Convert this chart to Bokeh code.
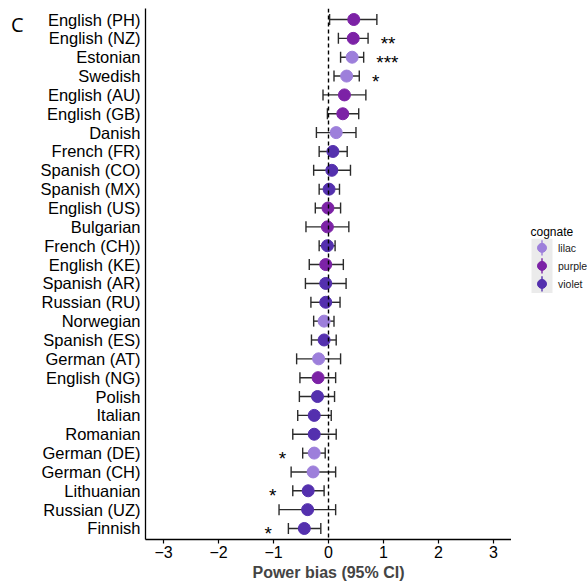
from bokeh.plotting import figure
from bokeh.layouts import row
from bokeh.models import (FactorRange, Range1d, ColumnDataSource, Whisker, Span,
                          Div, FixedTicker, TeeHead)
from bokeh.core.properties import value
from bokeh.embed import file_html
from bokeh.resources import INLINE

# ---------------- data (top to bottom) ----------------
languages = ["English (PH)", "English (NZ)", "Estonian", "Swedish", "English (AU)",
             "English (GB)", "Danish", "French (FR)", "Spanish (CO)", "Spanish (MX)",
             "English (US)", "Bulgarian", "French (CH))", "English (KE)", "Spanish (AR)",
             "Russian (RU)", "Norwegian", "Spanish (ES)", "German (AT)", "English (NG)",
             "Polish", "Italian", "Romanian", "German (DE)", "German (CH)",
             "Lithuanian", "Russian (UZ)", "Finnish"]
estimate = [0.46, 0.45, 0.43, 0.33, 0.29, 0.26, 0.14, 0.08, 0.06, 0.01,
            -0.01, -0.02, -0.02, -0.05, -0.05, -0.05, -0.08, -0.08, -0.18, -0.19,
            -0.20, -0.26, -0.26, -0.26, -0.28, -0.37, -0.38, -0.44]
ci_lower = [0.02, 0.18, 0.22, 0.10, -0.10, -0.02, -0.22, -0.17, -0.27, -0.17,
            -0.24, -0.41, -0.17, -0.35, -0.42, -0.32, -0.27, -0.31, -0.58, -0.52,
            -0.53, -0.56, -0.65, -0.47, -0.68, -0.65, -0.90, -0.73]
ci_upper = [0.88, 0.72, 0.64, 0.56, 0.68, 0.55, 0.50, 0.34, 0.40, 0.20,
            0.22, 0.37, 0.12, 0.27, 0.32, 0.21, 0.10, 0.14, 0.22, 0.13,
            0.11, 0.05, 0.14, -0.06, 0.13, -0.08, 0.13, -0.14]
cognate = ["purple", "purple", "lilac", "lilac", "purple", "purple", "lilac", "violet",
           "violet", "violet", "purple", "purple", "violet", "purple", "violet", "violet",
           "lilac", "violet", "lilac", "purple", "violet", "violet", "violet", "lilac",
           "lilac", "violet", "violet", "violet"]
signif = ["", "**", "***", "*", "", "", "", "", "", "", "", "", "", "", "", "", "", "",
          "", "", "", "", "", "*", "", "*", "", "*"]
cognate_levels = ["lilac", "purple", "violet"]
x_ticks = [-3, -2, -1, 0, 1, 2, 3]
x_tick_labels = ["\u22123", "\u22122", "\u22121", "0", "1", "2", "3"]
x_title = "Power bias (95% CI)"
panel_tag = "C"
legend_title = "cognate"

# ---------------- styles ----------------
palette = {"lilac": "#9D7FDB", "purple": "#7C22A6", "violet": "#5430AE"}
FONT = "Liberation Sans"
STAR_GAP_RIGHT = 0.23
STAR_GAP_LEFT = 0.30
H = 581

src = ColumnDataSource(dict(lang=languages, est=estimate, lo=ci_lower, hi=ci_upper))

fig = figure(width=481, height=H, output_backend="svg", toolbar_location=None,
             y_range=FactorRange(factors=list(reversed(languages)), range_padding=0.006),
             x_range=Range1d(-3.33, 3.33),
             min_border_left=115, min_border_right=0, min_border_top=8,
             min_border_bottom=42)
fig.frame_width = 366
fig.frame_height = 531

fig.xgrid.visible = False
fig.ygrid.visible = False
fig.outline_line_color = None
fig.background_fill_color = "white"
fig.border_fill_color = "white"

# zero line
fig.add_layout(Span(location=0, dimension="height", line_color="black",
                    line_width=1.4, line_dash="4 3"))

# error bars
whisk = Whisker(source=src, base="lang", lower="lo", upper="hi", dimension="width",
                line_color="#2b2b2b", line_width=1.4,
                lower_head=TeeHead(size=11, line_color="#2b2b2b", line_width=1.4),
                upper_head=TeeHead(size=11, line_color="#2b2b2b", line_width=1.4))
fig.add_layout(whisk)

# points per cognate level
for lev in cognate_levels:
    idx = [i for i, c in enumerate(cognate) if c == lev]
    s = ColumnDataSource(dict(lang=[languages[i] for i in idx],
                              est=[estimate[i] for i in idx]))
    fig.scatter(x="est", y="lang", source=s, size=12, marker="circle",
                fill_color=palette[lev], line_color=palette[lev])

# significance stars
pos_i = [i for i, s in enumerate(signif) if s and estimate[i] > 0]
neg_i = [i for i, s in enumerate(signif) if s and estimate[i] <= 0]
fig.text(x=[ci_upper[i] + STAR_GAP_RIGHT for i in pos_i], y=[languages[i] for i in pos_i],
         text=[signif[i] for i in pos_i], text_align="left", text_baseline="middle",
         y_offset=5, text_font=value(FONT), text_font_size="19px", text_color="black")
fig.text(x=[ci_lower[i] - STAR_GAP_LEFT for i in neg_i], y=[languages[i] for i in neg_i],
         text=[signif[i] for i in neg_i], text_align="right", text_baseline="middle",
         y_offset=5, text_font=value(FONT), text_font_size="19px", text_color="black")

# axes
fig.xaxis.ticker = FixedTicker(ticks=x_ticks)
fig.xaxis.major_label_overrides = {t: l for t, l in zip(x_ticks, x_tick_labels)}
fig.xaxis.minor_tick_line_color = None
fig.xaxis.major_tick_out = 4
fig.xaxis.major_tick_in = 0
fig.xaxis.major_tick_line_width = 1.2
fig.xaxis.axis_line_width = 1.3
fig.xaxis.major_label_text_font = FONT
fig.xaxis.major_label_text_font_size = "16px"
fig.xaxis.major_label_text_color = "black"
fig.xaxis.major_label_standoff = 2
fig.xaxis.axis_label = x_title
fig.xaxis.axis_label_text_font = FONT
fig.xaxis.axis_label_text_font_style = "bold"
fig.xaxis.axis_label_text_font_size = "16px"
fig.xaxis.axis_label_standoff = 3

fig.yaxis.major_tick_out = 0
fig.yaxis.major_tick_in = 0
fig.yaxis.minor_tick_line_color = None
fig.yaxis.axis_line_width = 1.3
fig.yaxis.major_label_text_font = FONT
fig.yaxis.major_label_text_font_size = "16.5px"
fig.yaxis.major_label_text_color = "black"
fig.yaxis.major_label_standoff = 5

# ---------------- legend panel (ggplot-style keys) ----------------
LW = 76
KEY_L, KEY_W, KEY_TOP, KEY_STEP = 20, 21, 253, 19.8
n = len(cognate_levels)
k_top = [KEY_TOP + KEY_STEP * i for i in range(n)]
k_bot = [t + KEY_STEP for t in k_top]
k_mid = [t + KEY_STEP / 2 for t in k_top]
k_col = [palette[c] for c in cognate_levels]

lfig = figure(width=LW, height=H, output_backend="svg", toolbar_location=None,
              x_range=Range1d(0, LW), y_range=Range1d(H, 0),
              x_axis_type=None, y_axis_type=None,
              min_border_left=0, min_border_right=0, min_border_top=0, min_border_bottom=0)
lfig.grid.visible = False
lfig.outline_line_color = None
lfig.background_fill_color = "white"
lfig.border_fill_color = "white"

lfig.quad(left=KEY_L, right=KEY_L + KEY_W, top=KEY_TOP, bottom=KEY_TOP + KEY_STEP * n,
          fill_color="#EBEBEB", line_color=None)
lfig.segment(x0=[KEY_L + KEY_W / 2] * n, x1=[KEY_L + KEY_W / 2] * n,
             y0=[t + 1.5 for t in k_top], y1=[b - 1.5 for b in k_bot],
             line_color=k_col, line_width=2, line_alpha=0.7)
lfig.scatter(x=[KEY_L + KEY_W / 2] * n, y=k_mid, size=9, marker="circle",
             fill_color=k_col, line_color=k_col)
lfig.text(x=[KEY_L + KEY_W + 5.5] * n, y=k_mid, text=cognate_levels,
          text_align="left", text_baseline="middle", text_font=value(FONT),
          text_font_size="10.5px", text_color="#1a1a1a")
lfig.text(x=[KEY_L - 1], y=[KEY_TOP - 7], text=[legend_title], text_align="left",
          text_baseline="alphabetic", text_font=value(FONT), text_font_size="12px",
          text_color="black")

# panel tag
tag = Div(text=panel_tag, width=30, height=H, margin=0,
          styles={"font-family": "Open Sans", "font-size": "20px",
                  "padding-left": "11px", "padding-top": "11px", "color": "black"})

p = row(tag, fig, lfig)

open("out.html", "w").write(file_html(p, INLINE))
